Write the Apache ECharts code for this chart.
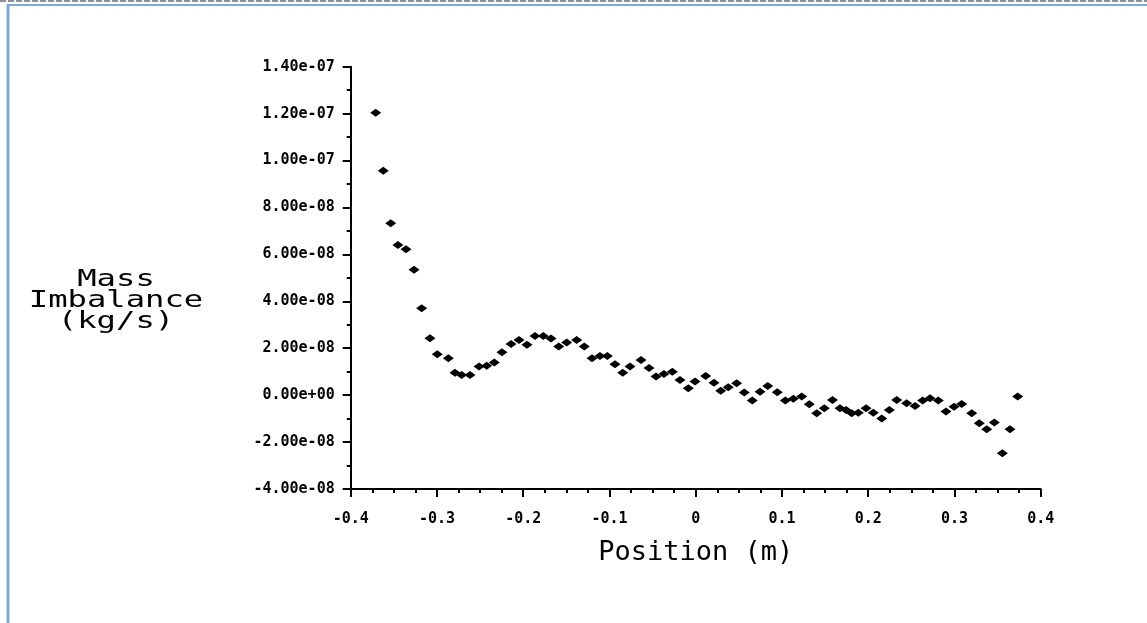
<!DOCTYPE html>
<html>
<head>
<meta charset="utf-8">
<script src="https://cdn.jsdelivr.net/npm/echarts@6/dist/echarts.min.js"></script>
<style>
html,body{margin:0;padding:0;background:#fff;}
#chart{width:1147px;height:623px;}
</style>
</head>
<body>
<div id="chart"></div>
<script>
// Position (m)
const positions = [
  -0.3710, -0.3622, -0.3536, -0.3452, -0.3359, -0.3266, -0.3177, -0.3081, -0.2996, -0.2868,
  -0.2791, -0.2713, -0.2617, -0.2512, -0.2423, -0.2335, -0.2246, -0.2141, -0.2049, -0.1956,
  -0.1863, -0.1767, -0.1678, -0.1588, -0.1496, -0.1380, -0.1292, -0.1202, -0.1110, -0.1025,
  -0.0936, -0.0846, -0.0762, -0.0634, -0.0541, -0.0460, -0.0368, -0.0271, -0.0182, -0.0086,
  -0.0008, 0.0116, 0.0212, 0.0290, 0.0378, 0.0475, 0.0563, 0.0656, 0.0746, 0.0835,
  0.0946, 0.1039, 0.1132, 0.1229, 0.1317, 0.1403, 0.1491, 0.1586, 0.1673, 0.1743,
  0.1809, 0.1885, 0.1975, 0.2059, 0.2157, 0.2245, 0.2330, 0.2446, 0.2543, 0.2632,
  0.2717, 0.2813, 0.2902, 0.2995, 0.3084, 0.3200, 0.3288, 0.3374, 0.3462, 0.3555,
  0.3644, 0.3733
];
// Mass imbalance (kg/s)
const massImbalance = [
  12.04e-8, 9.56e-8, 7.33e-8, 6.40e-8, 6.22e-8, 5.34e-8, 3.70e-8, 2.43e-8, 1.74e-8, 1.57e-8,
  0.96e-8, 0.86e-8, 0.86e-8, 1.22e-8, 1.25e-8, 1.39e-8, 1.83e-8, 2.18e-8, 2.35e-8, 2.15e-8,
  2.52e-8, 2.52e-8, 2.41e-8, 2.07e-8, 2.24e-8, 2.35e-8, 2.07e-8, 1.57e-8, 1.67e-8, 1.67e-8,
  1.32e-8, 0.96e-8, 1.22e-8, 1.50e-8, 1.16e-8, 0.79e-8, 0.90e-8, 1.00e-8, 0.65e-8, 0.29e-8,
  0.58e-8, 0.82e-8, 0.53e-8, 0.19e-8, 0.34e-8, 0.51e-8, 0.11e-8, -0.23e-8, 0.14e-8, 0.39e-8,
  0.12e-8, -0.23e-8, -0.15e-8, -0.06e-8, -0.39e-8, -0.77e-8, -0.56e-8, -0.21e-8, -0.56e-8, -0.63e-8,
  -0.77e-8, -0.75e-8, -0.56e-8, -0.75e-8, -0.99e-8, -0.63e-8, -0.21e-8, -0.35e-8, -0.46e-8, -0.23e-8,
  -0.13e-8, -0.23e-8, -0.70e-8, -0.49e-8, -0.38e-8, -0.77e-8, -1.20e-8, -1.45e-8, -1.17e-8, -2.48e-8,
  -1.45e-8, -0.06e-8
];
const xTickValues = [-0.4, -0.3, -0.2, -0.1, 0, 0.1, 0.2, 0.3, 0.4];
const xTickLabels = ['-0.4', '-0.3', '-0.2', '-0.1', '0', '0.1', '0.2', '0.3', '0.4'];
const yTickValues = [-4e-8, -2e-8, 0, 2e-8, 4e-8, 6e-8, 8e-8, 1e-7, 1.2e-7, 1.4e-7];
const yTickLabels = ['-4.00e-08', '-2.00e-08', '0.00e+00', '2.00e-08', '4.00e-08', '6.00e-08', '8.00e-08', '1.00e-07', '1.20e-07', '1.40e-07'];
const xTitle = 'Position (m)';
const yTitle = 'Mass\nImbalance\n(kg/s)';

function lookup(vals, labels, v, tol) {
  for (let i = 0; i < vals.length; i++) {
    if (Math.abs(vals[i] - v) < tol) return labels[i];
  }
  return '';
}

const data = positions.map((p, i) => [p, massImbalance[i]]);

const chart = echarts.init(document.getElementById('chart'), null, {renderer: 'canvas'});
const axisColor = '#000';
chart.setOption({
  animation: false,
  backgroundColor: '#fff',
  grid: {left: 350.7, right: 106.3, top: 66.7, bottom: 134, containLabel: false},
  xAxis: {
    type: 'value',
    min: -0.4, max: 0.4, interval: 0.1,
    name: xTitle,
    nameLocation: 'middle',
    nameGap: 50,
    nameTextStyle: {fontFamily: 'DejaVu Sans Mono', fontSize: 27, color: '#000'},
    axisLine: {onZero: false, lineStyle: {color: axisColor, width: 2}},
    axisTick: {show: true, inside: false, length: 8, lineStyle: {color: axisColor, width: 2}},
    minorTick: {show: true, splitNumber: 4, length: 4, lineStyle: {color: axisColor, width: 2}},
    splitLine: {show: false},
    axisLabel: {
      margin: 23,
      fontFamily: 'DejaVu Sans Mono', fontWeight: 'bold', fontSize: 15, color: '#000',
      formatter: v => lookup(xTickValues, xTickLabels, v, 1e-6)
    }
  },
  yAxis: {
    type: 'value',
    min: -4e-8, max: 1.4e-7, interval: 2e-8,
    axisLine: {onZero: false, lineStyle: {color: axisColor, width: 2}},
    axisTick: {show: true, inside: false, length: 8, lineStyle: {color: axisColor, width: 2}},
    minorTick: {show: true, splitNumber: 2, length: 4, lineStyle: {color: axisColor, width: 2}},
    splitLine: {show: false},
    axisLabel: {
      margin: 16,
      fontFamily: 'DejaVu Sans Mono', fontWeight: 'bold', fontSize: 15, color: '#000',
      formatter: v => lookup(yTickValues, yTickLabels, v, 1e-10)
    }
  },
  series: [{
    type: 'scatter',
    data: data,
    symbol: 'diamond',
    symbolSize: [11, 8],
    itemStyle: {color: '#000', opacity: 1},
    clip: false
  }],
  graphic: [
    {type: 'line', silent: true, shape: {x1: 0, y1: 1, x2: 1147, y2: 1}, style: {stroke: '#8a8f99', lineWidth: 2, lineDash: [6, 2]}},
    {type: 'line', silent: true, shape: {x1: 7, y1: 5, x2: 1147, y2: 5}, style: {stroke: '#7aa9dc', lineWidth: 2}},
    {type: 'line', silent: true, shape: {x1: 8, y1: 5, x2: 8, y2: 623}, style: {stroke: '#7aa9dc', lineWidth: 3}},
    {type: 'text', silent: true, x: 116, y: 301, scaleX: 1.4,
     style: {text: yTitle, font: '23px "DejaVu Sans Mono"', fill: '#000', align: 'center', verticalAlign: 'middle', lineHeight: 21}}
  ]
});
</script>
</body>
</html>
